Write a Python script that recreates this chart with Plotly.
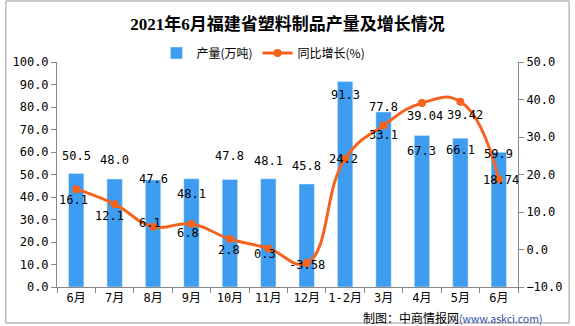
import plotly.graph_objects as go

months = ["6月", "7月", "8月", "9月", "10月", "11月", "12月", "1-2月", "3月", "4月", "5月", "6月"]
output = [50.5, 48.0, 47.6, 48.1, 47.8, 48.1, 45.8, 91.3, 77.8, 67.3, 66.1, 59.9]
growth = [16.1, 12.1, 6.1, 6.8, 2.8, 0.3, -3.58, 24.2, 33.1, 39.04, 39.42, 18.74]
output_labels = ["50.5", "48.0", "47.6", "48.1", "47.8", "48.1", "45.8", "91.3", "77.8", "67.3", "66.1", "59.9"]
growth_labels = ["16.1", "12.1", "6.1", "6.8", "2.8", "0.3", "-3.58", "24.2", "33.1", "39.04", "39.42", "18.74"]

# label offsets in px (positive dy = downward)
bar_dy = [-17, -19, -1, 15, -23, -18, -18, 13, -5, 15, 12, 2]
line_dy = [11, 12, -4, 9, 11, 6, 2, 0, 10, 13, 13, 1]
line_dx = [-3, -5, -3, -3, -1, -3, 0, -2, 0, 3, 5, 2]

xs = list(range(len(months)))
BLUE = "#3E9DF0"
ORANGE = "#F5631F"
NUMFONT = "DejaVu Sans Mono, Noto Sans CJK SC"

fig = go.Figure()
fig.add_trace(go.Bar(x=xs, y=output, name="产量(万吨)", marker_color=BLUE,
                     width=0.4, yaxis="y"))
fig.add_trace(go.Scatter(x=xs, y=growth, name="同比增长(%)", mode="lines+markers",
                         line=dict(color=ORANGE, width=3, shape="spline", smoothing=1.3),
                         marker=dict(color=ORANGE, size=8), yaxis="y2"))

annotations = []
for i, (v, t) in enumerate(zip(output, output_labels)):
    annotations.append(dict(x=xs[i], y=v, xref="x", yref="y", text=t, showarrow=False,
                            yshift=-bar_dy[i], yanchor="middle",
                            font=dict(family=NUMFONT, size=12, color="#000")))
for i, (v, t) in enumerate(zip(growth, growth_labels)):
    annotations.append(dict(x=xs[i], y=v, xref="x", yref="y2", text=t, showarrow=False,
                            yshift=-line_dy[i], xshift=line_dx[i], yanchor="middle",
                            font=dict(family=NUMFONT, size=12, color="#000")))
annotations.append(dict(x=(548 - 53) / 469, y=(287 - 317) / 225, xref="paper", yref="paper",
                        xanchor="right", yanchor="middle", showarrow=False,
                        text="制图：中商情报网<span style='color:#2B4FA0;font-size:10.5px'>(www.askci.com)</span>",
                        font=dict(family="Noto Sans CJK SC", size=12, color="#000")))

fig.update_layout(
    width=575, height=326,
    margin=dict(l=53, r=53, t=62, b=39),
    paper_bgcolor="white", plot_bgcolor="white",
    title=dict(text="<b>2021年6月福建省塑料制品产量及增长情况</b>", x=0.5, xanchor="center",
               y=1 - 24 / 326, yanchor="middle",
               font=dict(family="Liberation Serif, Noto Sans CJK SC", size=17, color="#000")),
    legend=dict(orientation="h", x=(263 - 53) / 469, xanchor="center", y=(287 - 53) / 225,
                yanchor="middle", font=dict(family="Noto Sans CJK SC", size=12, color="#000"),
                bgcolor="rgba(0,0,0,0)"),
    xaxis=dict(range=[-0.5, 11.5], tickvals=xs, ticktext=months, ticks="",
               showline=True, linecolor="#888", linewidth=1, showgrid=False, zeroline=False,
               tickfont=dict(family=NUMFONT, size=12, color="#000"),
               minor=dict(ticks="outside", tick0=-0.5, dtick=1, ticklen=5, tickcolor="#888")),
    yaxis=dict(range=[0, 100], dtick=10, tickformat=".1f", ticks="outside", ticklen=5,
               tickcolor="#888", showline=True, linecolor="#888", linewidth=1,
               showgrid=False, zeroline=False,
               tickfont=dict(family=NUMFONT, size=12, color="#000")),
    yaxis2=dict(range=[-10, 50], dtick=10, tickformat=".1f", ticks="outside", ticklen=5,
                tickcolor="#888", showline=True, linecolor="#888", linewidth=1,
                overlaying="y", side="right", showgrid=False, zeroline=False,
                tickfont=dict(family=NUMFONT, size=12, color="#000")),
    annotations=annotations,
    shapes=[dict(type="rect", xref="paper", yref="paper",
                 x0=(1 - 53) / 469, x1=(574 - 53) / 469,
                 y0=(287 - 323) / 225, y1=(287 - 1) / 225,
                 line=dict(color="#999", width=1), fillcolor="rgba(0,0,0,0)")],
    showlegend=True,
)

fig.write_html("out.html")
